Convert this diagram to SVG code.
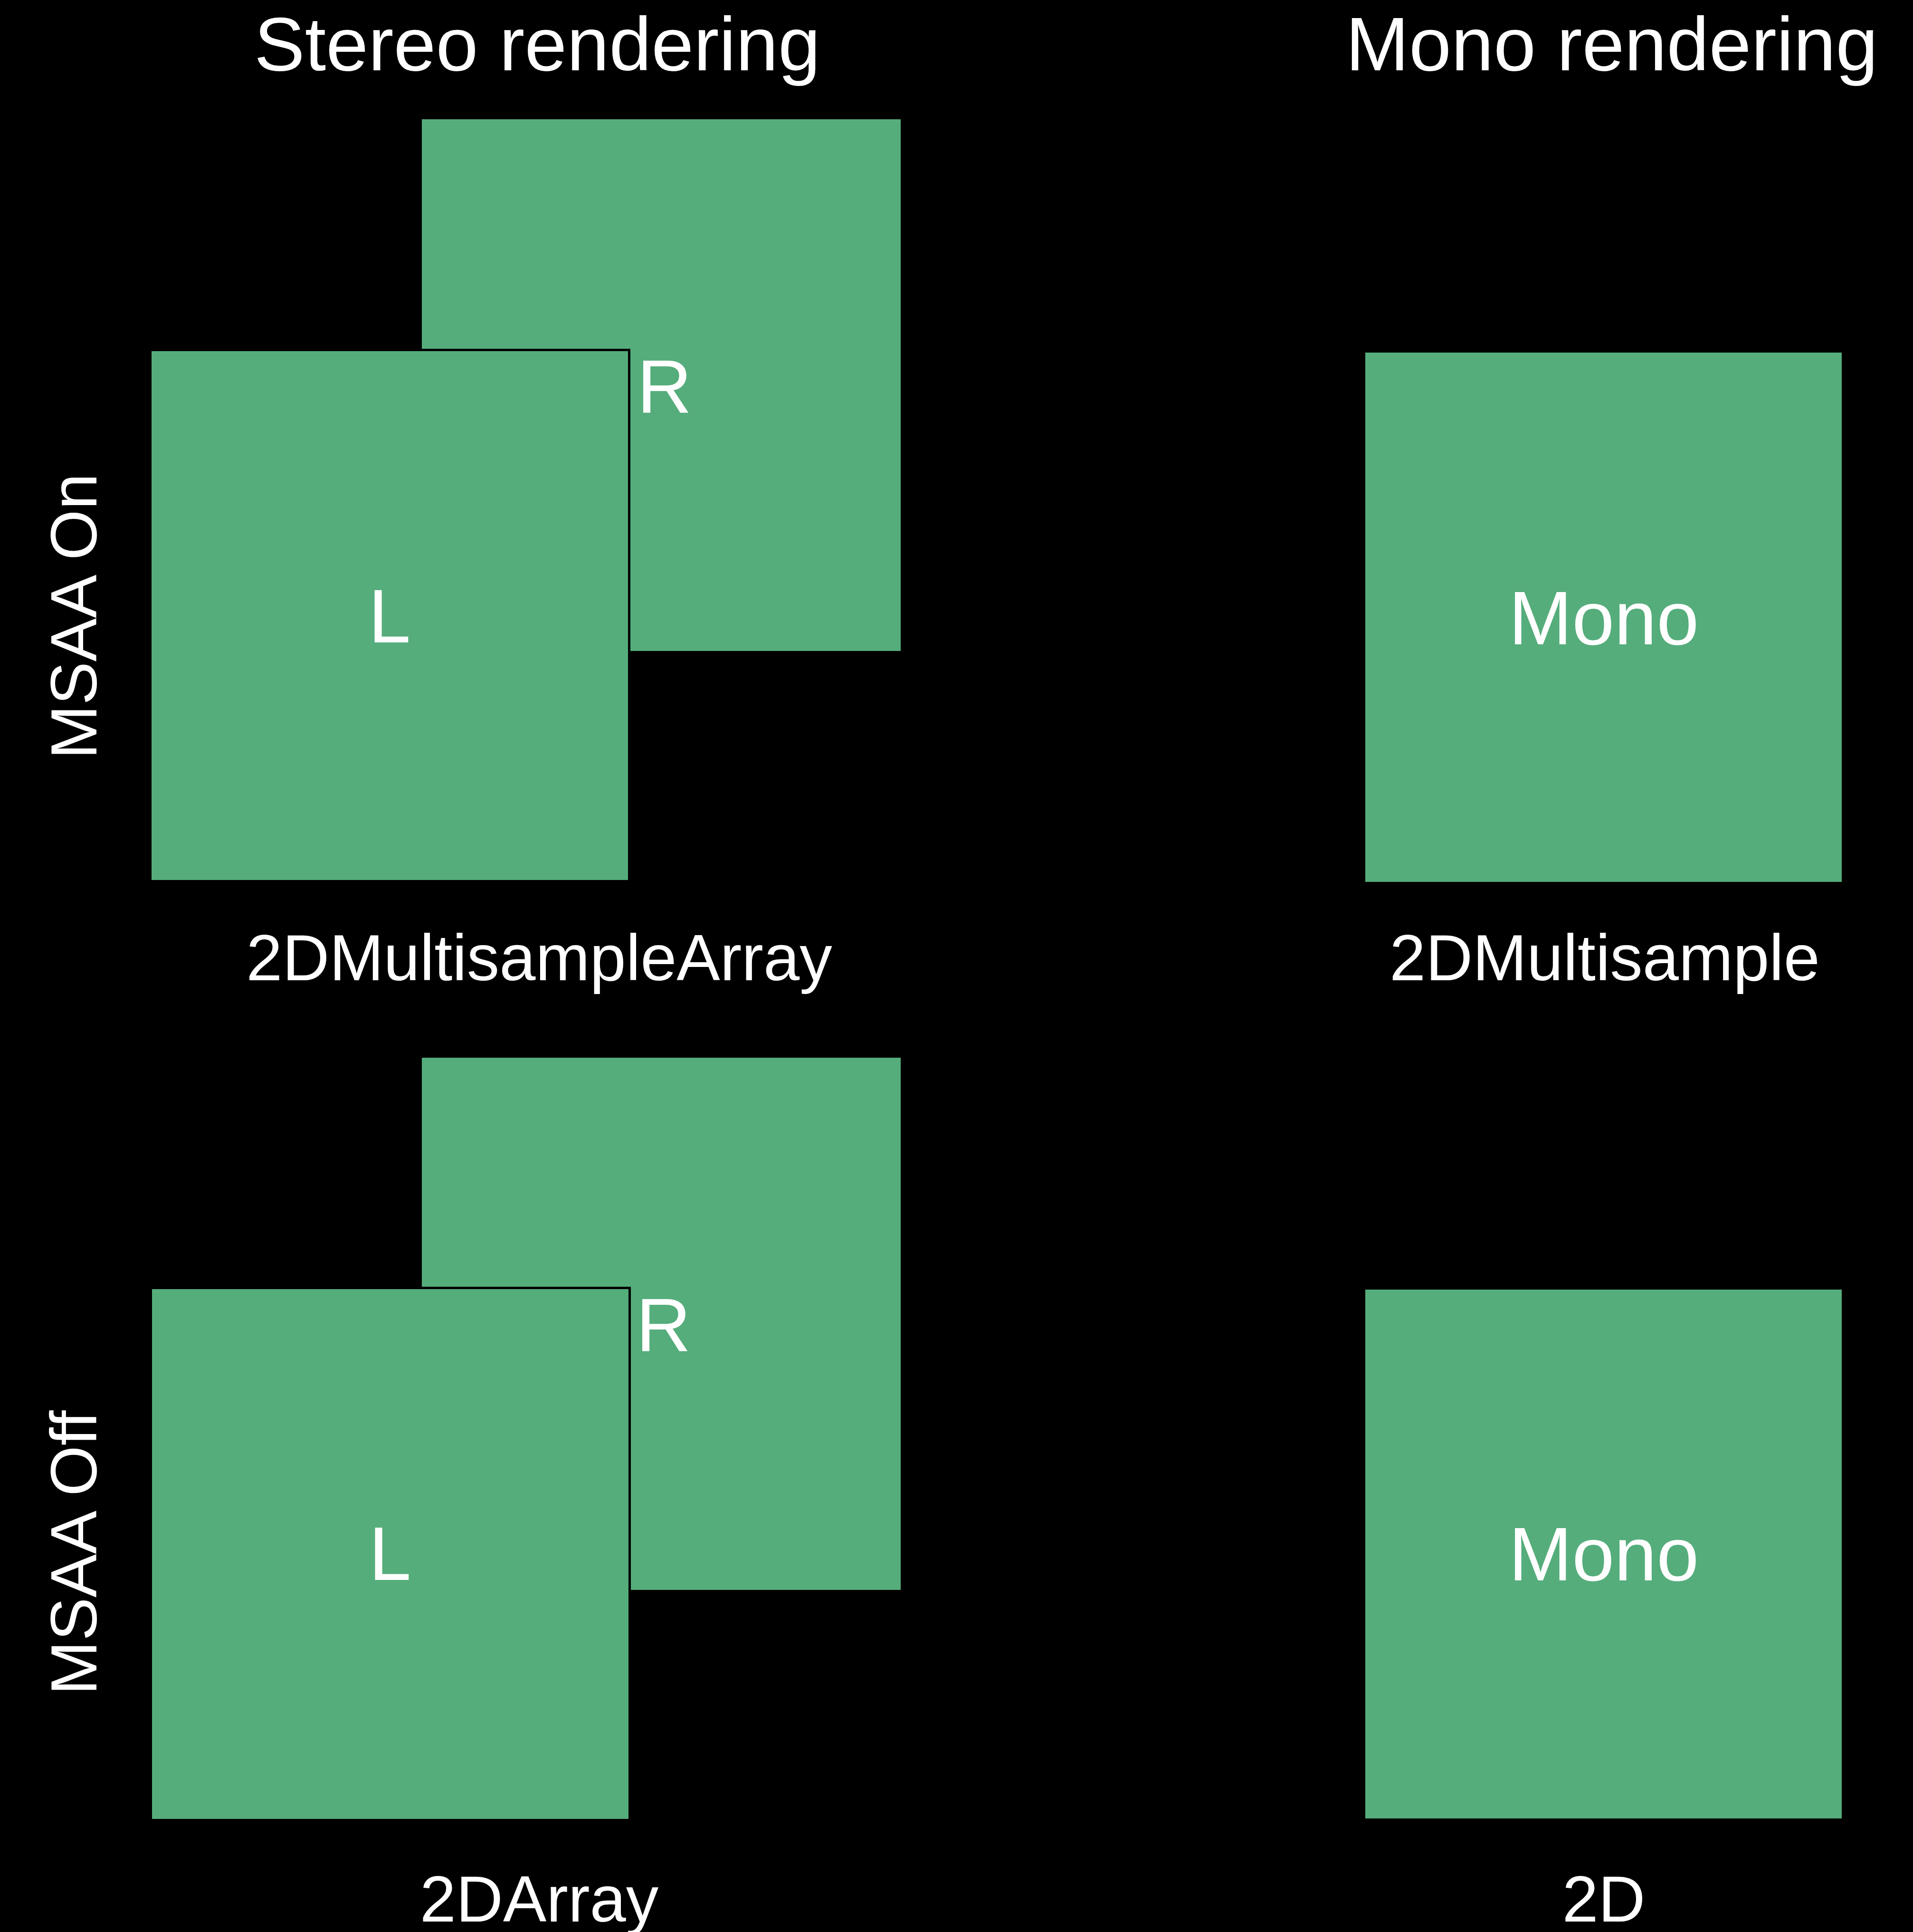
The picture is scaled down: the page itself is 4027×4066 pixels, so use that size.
<svg xmlns="http://www.w3.org/2000/svg" width="4027" height="4066" viewBox="0 0 4027 4066">
<style>
.bg{fill:#000000}
.box{fill:#55ad7b;stroke:#000000;stroke-width:5}
.t{font-family:"Liberation Sans",Arial,Helvetica,sans-serif;fill:#ffffff}
.head{font-size:160px;text-anchor:middle}
.in{font-size:160px;text-anchor:middle}
.cap{font-size:137px;text-anchor:middle}
.side{font-size:137px;text-anchor:middle}
</style>
<rect class="bg" x="0" y="0" width="4027" height="4066"/>
<g id="headers">
<text class="t head" x="1131" y="148">Stereo rendering</text>
<text class="t head" x="3393" y="148">Mono rendering</text>
</g>
<g id="row-labels">
<text class="t side" transform="translate(203,1297) rotate(-90)">MSAA On</text>
<text class="t side" transform="translate(203,3268) rotate(-90)">MSAA Off</text>
</g>
<g id="msaa-on-R">
<rect class="box" x="885.5" y="248.5" width="1013" height="1124"/>
<text class="t in" x="1395" y="869" style="text-anchor:start" dx="-54">R</text>
</g>
<g id="msaa-on-L">
<rect class="box" x="316.5" y="736.5" width="1008" height="1118"/>
<text class="t in" x="820" y="1352">L</text>
</g>
<g id="msaa-on-mono">
<rect class="box" x="2871.5" y="739.5" width="1008" height="1119"/>
<text class="t in" x="3376" y="1356">Mono</text>
</g>
<g id="caption-2DMultisampleArray">
<text class="t cap" x="1135" y="2063">2DMultisampleArray</text>
</g>
<g id="caption-2DMultisample">
<text class="t cap" x="3378" y="2063">2DMultisample</text>
</g>
<g id="msaa-off-R">
<rect class="box" x="885.5" y="2223.5" width="1013" height="1125"/>
<text class="t in" x="1339" y="2844" style="text-anchor:start">R</text>
</g>
<g id="msaa-off-L">
<rect class="box" x="317.5" y="2710.5" width="1008" height="1120"/>
<text class="t in" x="821" y="3325">L</text>
</g>
<g id="msaa-off-mono">
<rect class="box" x="2871.5" y="2711.5" width="1008" height="1118"/>
<text class="t in" x="3376" y="3326">Mono</text>
</g>
<g id="caption-2DArray">
<text class="t cap" x="1135" y="4044">2DArray</text>
</g>
<g id="caption-2D">
<text class="t cap" x="3376" y="4044">2D</text>
</g>
</svg>
